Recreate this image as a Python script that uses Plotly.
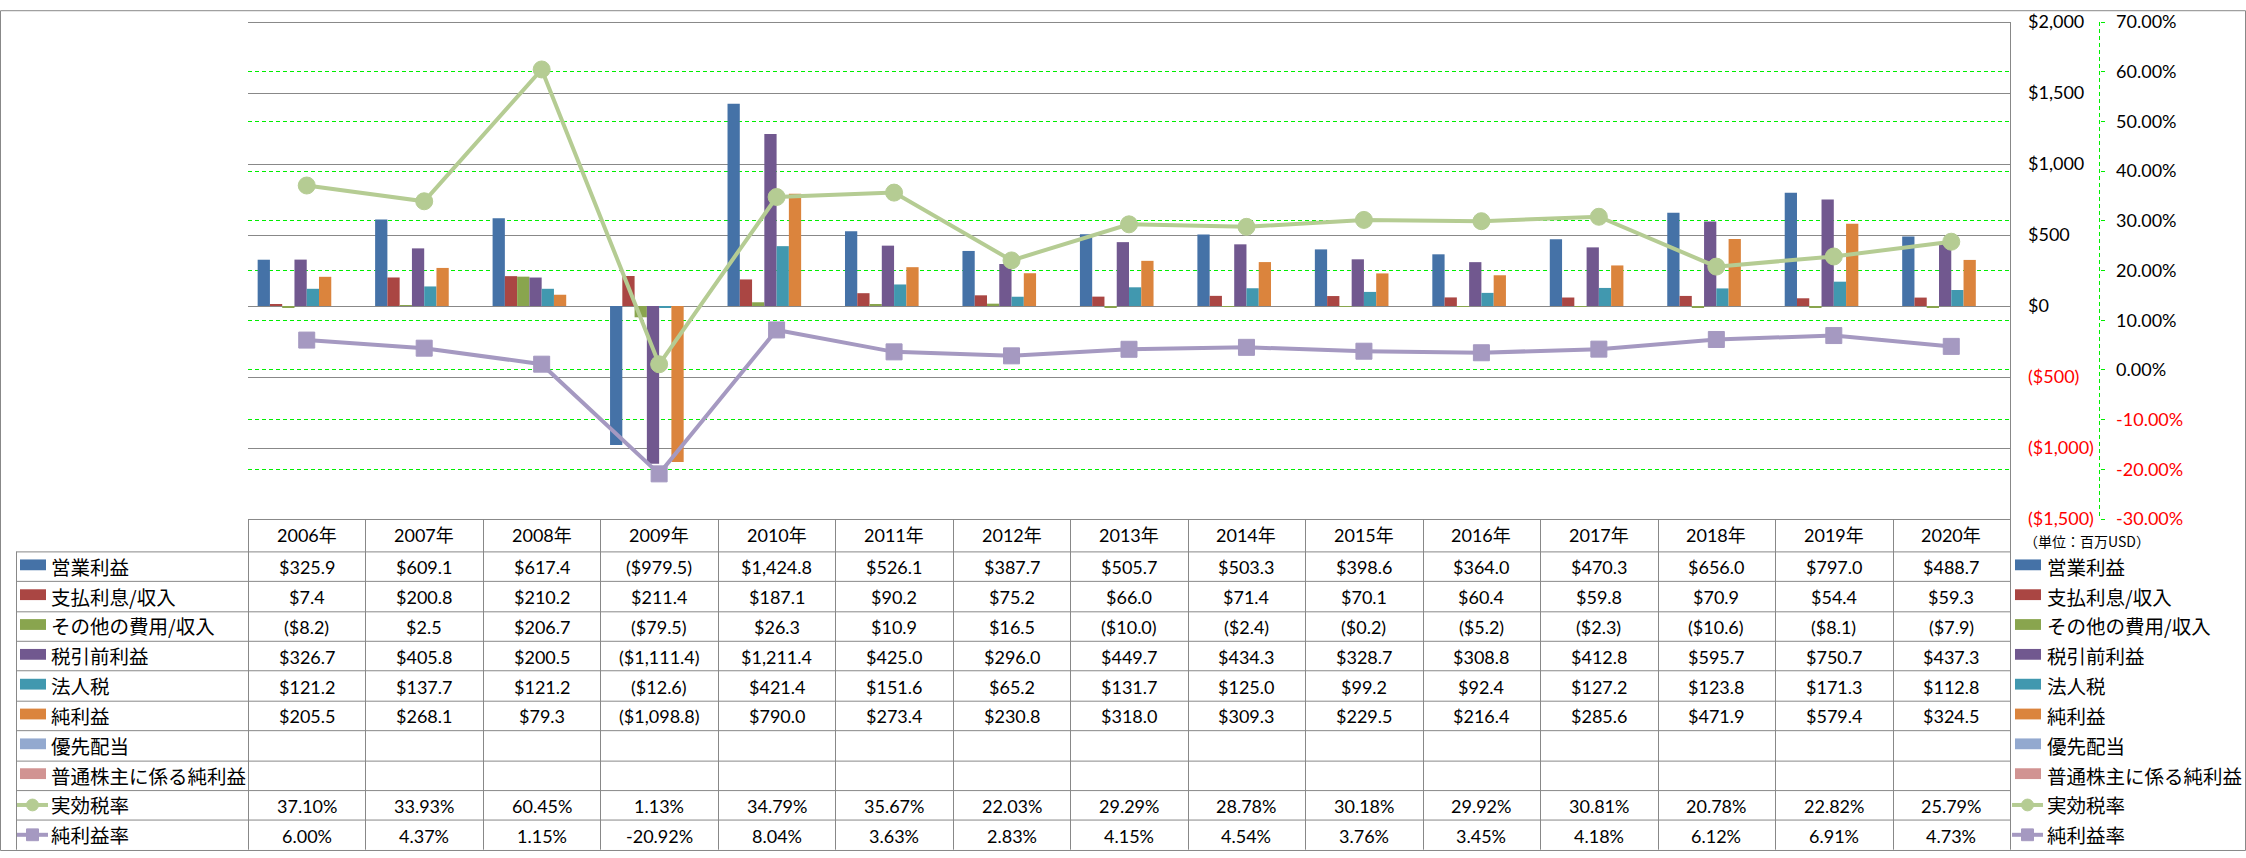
import plotly.graph_objects as go

# ---------------- data ----------------
years = ["2006年", "2007年", "2008年", "2009年", "2010年", "2011年", "2012年", "2013年",
         "2014年", "2015年", "2016年", "2017年", "2018年", "2019年", "2020年"]

operating_income = [325.9, 609.1, 617.4, -979.5, 1424.8, 526.1, 387.7, 505.7, 503.3, 398.6, 364.0, 470.3, 656.0, 797.0, 488.7]
interest = [7.4, 200.8, 210.2, 211.4, 187.1, 90.2, 75.2, 66.0, 71.4, 70.1, 60.4, 59.8, 70.9, 54.4, 59.3]
other_expense = [-8.2, 2.5, 206.7, -79.5, 26.3, 10.9, 16.5, -10.0, -2.4, -0.2, -5.2, -2.3, -10.6, -8.1, -7.9]
pretax_income = [326.7, 405.8, 200.5, -1111.4, 1211.4, 425.0, 296.0, 449.7, 434.3, 328.7, 308.8, 412.8, 595.7, 750.7, 437.3]
income_tax = [121.2, 137.7, 121.2, -12.6, 421.4, 151.6, 65.2, 131.7, 125.0, 99.2, 92.4, 127.2, 123.8, 171.3, 112.8]
net_income = [205.5, 268.1, 79.3, -1098.8, 790.0, 273.4, 230.8, 318.0, 309.3, 229.5, 216.4, 285.6, 471.9, 579.4, 324.5]
preferred_dividends = [None] * 15
net_income_common = [None] * 15
effective_tax_rate = [37.10, 33.93, 60.45, 1.13, 34.79, 35.67, 22.03, 29.29, 28.78, 30.18, 29.92, 30.81, 20.78, 22.82, 25.79]
net_margin = [6.00, 4.37, 1.15, -20.92, 8.04, 3.63, 2.83, 4.15, 4.54, 3.76, 3.45, 4.18, 6.12, 6.91, 4.73]

bar_names = ["営業利益", "支払利息/収入", "その他の費用/収入", "税引前利益", "法人税", "純利益",
             "優先配当", "普通株主に係る純利益"]
bar_values = [operating_income, interest, other_expense, pretax_income, income_tax, net_income,
              preferred_dividends, net_income_common]
line_names = ["実効税率", "純利益率"]
line_values = [effective_tax_rate, net_margin]

usd_ticks = [2000, 1500, 1000, 500, 0, -500, -1000, -1500]
pct_ticks = [70, 60, 50, 40, 30, 20, 10, 0, -10, -20, -30]
unit_label = "（単位：百万USD）"

# ---------------- styles ----------------
bar_colors = ["#4572A7", "#AA4643", "#89A54E", "#71588F", "#4198AF", "#DB843D", "#93A9CF", "#D19392"]
line_colors = ["#B5CC93", "#A599C1"]
line_symbols = ["circle", "square"]
GRID = "#888888"
LIME = "#00EE00"
RED = "#FF0000"
NUM_FONT = "Lato, Noto Sans CJK JP, sans-serif"
JP_FONT = "Noto Sans CJK JP, sans-serif"

W, H = 2246, 858
L, T, PB, PR = 248, 13, 519, 2010
MR = 10
PW = W - MR - L
PH = PB - T


def px(x):
    return (x - L) / PW


def py(y):
    return (PB - y) / PH


def fmt_usd(v):
    if v is None:
        return ""
    s = f"${abs(v):,.1f}"
    return f"({s})" if v < 0 else s


def fmt_tick_usd(v):
    s = f"${abs(v):,.0f}"
    if v < 0:
        return f'<span style="color:{RED}">({s})</span>'
    return s


def fmt_tick_pct(v):
    s = f"{v:.2f}%"
    if v < 0:
        return f'<span style="color:{RED}">{s}</span>'
    return s


fig = go.Figure()

ncat = len(years)
col_w = (PR - L) / ncat
bw = 12.27 / col_w
off0 = -4 * bw
for i, (name, vals) in enumerate(zip(bar_names, bar_values)):
    fig.add_trace(go.Bar(
        x=years, y=vals, name=name, marker=dict(color=bar_colors[i], line=dict(width=0)),
        width=bw, offset=off0 + i * bw, yaxis="y", showlegend=False, hoverinfo="skip"))

for i, (name, vals) in enumerate(zip(line_names, line_values)):
    fig.add_trace(go.Scatter(
        x=years, y=vals, name=name, yaxis="y2", mode="lines+markers",
        line=dict(color=line_colors[i], width=4),
        marker=dict(symbol=line_symbols[i], size=17 if i == 0 else 16, color=line_colors[i],
                    line=dict(color=line_colors[i], width=1)),
        showlegend=False, hoverinfo="skip"))

shapes = []
annotations = []


def hline(y, x0, x1, color=GRID, width=1, dash=None, layer="above"):
    shapes.append(dict(type="line", xref="paper", yref="paper", x0=px(x0), x1=px(x1), y0=py(y), y1=py(y),
                       line=dict(color=color, width=width, dash=dash), layer=layer))


def vline(x, y0, y1, color=GRID, width=1, dash=None):
    shapes.append(dict(type="line", xref="paper", yref="paper", x0=px(x), x1=px(x), y0=py(y0), y1=py(y1),
                       line=dict(color=color, width=width, dash=dash)))


# outer border
shapes.append(dict(type="rect", xref="paper", yref="paper", x0=px(0.5), x1=px(W - 0.5), y0=py(1.5), y1=py(H - 1.5),
                   line=dict(color=GRID, width=1), fillcolor="rgba(0,0,0,0)"))
# top gridline drawn over the lime 70% line
hline(T + 0.5, L, PR, layer="between")
# secondary axis dashed line
vline(2099.5, T, PB, color=LIME, dash="4px,3px")

# ---------------- data table ----------------
HDR_TOP = 519.5
ROW_TOP = 552.0
TAB_BOT = 855.7
nrows = len(bar_names) + len(line_names)
row_h = (TAB_BOT - ROW_TOP) / nrows
TAB_LEFT = 16.5

hline(HDR_TOP, L, PR)
for k in range(nrows + 1):
    yk = round(ROW_TOP + k * row_h) + 0.5
    hline(yk, TAB_LEFT, PR)
vline(TAB_LEFT, ROW_TOP, TAB_BOT)
for j in range(ncat):
    vline(round(L + j * col_w) + 0.5, HDR_TOP, TAB_BOT)
vline(PR + 0.5, T, TAB_BOT)

for j, yr in enumerate(years):
    cx = L + (j + 0.5) * col_w
    annotations.append(dict(xref="paper", yref="paper", x=px(cx), y=py((HDR_TOP + ROW_TOP) / 2),
                            text=yr, showarrow=False, xanchor="center", yanchor="middle",
                            font=dict(family=NUM_FONT, size=18, color="black")))

all_names = bar_names + line_names
all_rows = [[fmt_usd(v) for v in vals] for vals in bar_values] + \
           [[f"{v:.2f}%" for v in vals] for vals in line_values]

for i, name in enumerate(all_names):
    rt = ROW_TOP + i * row_h
    rc = rt + row_h / 2
    for j, txt in enumerate(all_rows[i]):
        if not txt:
            continue
        cx = L + (j + 0.5) * col_w
        annotations.append(dict(xref="paper", yref="paper", x=px(cx), y=py(rc + 1), text=txt,
                                showarrow=False, xanchor="center", yanchor="middle",
                                font=dict(family=NUM_FONT, size=18, color="black")))
    # label + key on the left, and legend on the right
    for kx, tx in ((20, 48.5), (2015, 2044.5)):
        if i < len(bar_names):
            shapes.append(dict(type="rect", xref="paper", yref="paper", x0=px(kx), x1=px(kx + 26),
                               y0=py(rc - 7), y1=py(rc + 4), fillcolor=bar_colors[i], line=dict(width=0)))
        else:
            li = i - len(bar_names)
            c = line_colors[li]
            shapes.append(dict(type="line", xref="paper", yref="paper", x0=px(kx - 3), x1=px(kx + 28),
                               y0=py(rc), y1=py(rc), line=dict(color=c, width=4)))
            mx = kx + 12.5
            if li == 0:
                shapes.append(dict(type="circle", xref="paper", yref="paper", x0=px(mx - 6), x1=px(mx + 6),
                                   y0=py(rc - 6), y1=py(rc + 6), fillcolor=c, line=dict(color=c, width=1)))
            else:
                shapes.append(dict(type="rect", xref="paper", yref="paper", x0=px(mx - 6), x1=px(mx + 6),
                                   y0=py(rc - 6), y1=py(rc + 6), fillcolor=c, line=dict(color=c, width=1)))
        annotations.append(dict(xref="paper", yref="paper", x=px(tx), y=py(rc), text=name,
                                showarrow=False, xanchor="left", yanchor="middle",
                                font=dict(family=JP_FONT, size=19.5, color="black")))

annotations.append(dict(xref="paper", yref="paper", x=px(2022), y=py(541), text=unit_label,
                        showarrow=False, xanchor="left", yanchor="middle",
                        font=dict(family=JP_FONT, size=14, color="black")))

fig.update_layout(
    width=W, height=H,
    margin=dict(l=L, r=MR, t=T, b=H - PB, pad=0),
    paper_bgcolor="white", plot_bgcolor="white",
    font=dict(family=NUM_FONT, size=18, color="black"),
    barmode="overlay",
    showlegend=False,
    xaxis=dict(domain=[0, px(PR)], type="category", range=[-0.5, ncat - 0.5],
               showticklabels=False, showgrid=False, zeroline=False, showline=False, ticks=""),
    yaxis=dict(side="right", anchor="x", range=[-1500, 2000],
               tickvals=usd_ticks, ticktext=[fmt_tick_usd(v) for v in usd_ticks],
               showgrid=True, gridcolor=GRID, gridwidth=1, zeroline=False, showline=False,
               ticks="", ticklabelstandoff=17,
               tickfont=dict(family=NUM_FONT, size=18, color="black")),
    yaxis2=dict(overlaying="y", side="right", anchor="free", position=px(2099.5), range=[-30, 70],
                tickvals=pct_ticks, ticktext=[fmt_tick_pct(v) for v in pct_ticks],
                showgrid=True, gridcolor=LIME, gridwidth=1, griddash="4px,3px",
                zeroline=False, showline=False, ticks="outside", ticklen=4, tickcolor=LIME,
                ticklabelstandoff=8,
                tickfont=dict(family=NUM_FONT, size=18, color="black")),
    shapes=shapes,
    annotations=annotations,
)

fig.write_html("out.html", config={"displayModeBar": False},
               post_script="document.body.style.margin='0';document.body.style.overflow='hidden';")
